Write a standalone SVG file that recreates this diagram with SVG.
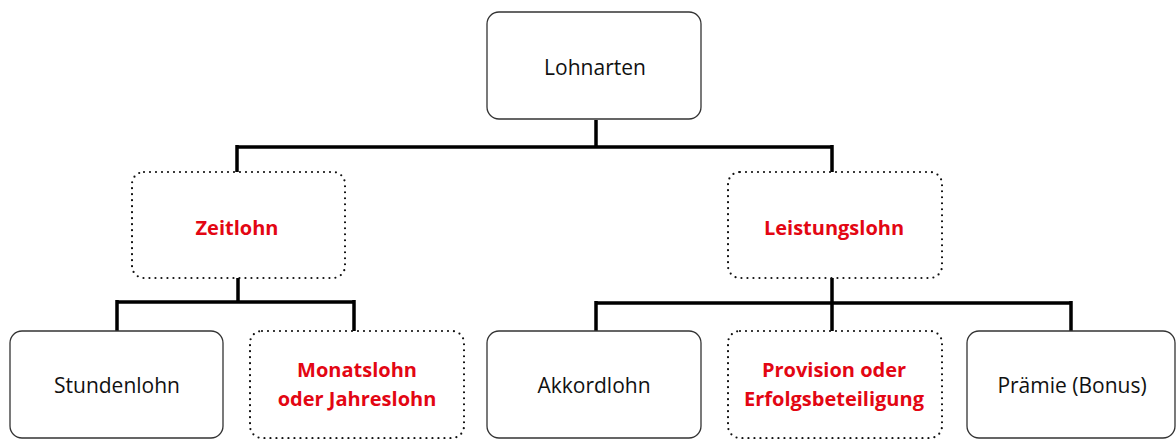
<svg xmlns="http://www.w3.org/2000/svg" width="1176" height="439" viewBox="0 0 1176 439">
<style>
.solid{fill:#fff;stroke:#333;stroke-width:1.3}
.dot{fill:#fff;stroke:#111;stroke-width:2.2;stroke-dasharray:0 6;stroke-linecap:round}
.conn{fill:none;stroke:#000;stroke-width:3.5}
.t{font-family:"Open Sans","Noto Sans",sans-serif;font-size:21px;fill:#111;text-anchor:middle}
.r{font-family:"Open Sans","Noto Sans",sans-serif;font-size:20px;font-weight:bold;fill:#e30613;text-anchor:middle}
</style>
<rect width="1176" height="439" fill="#fff"/>
<g id="connectors">
<path class="conn" d="M596 120V147M237 147H832M237 145V172M832 145V172"/>
<path class="conn" d="M238 278V303M117 302H355M117 300V331M354 300V331"/>
<path class="conn" d="M832 278V331M596 303H1071M596 301V331M1071 301V331"/>
</g>
<g id="lohnarten"><rect class="solid" x="487" y="12" width="214" height="107" rx="12"/><text class="t" x="595" y="75">Lohnarten</text></g>
<g id="zeitlohn"><rect class="dot" x="132" y="172" width="213" height="106" rx="12"/><text class="r" x="237" y="235">Zeitlohn</text></g>
<g id="leistungslohn"><rect class="dot" x="728" y="172" width="214" height="106" rx="12"/><text class="r" x="834" y="235">Leistungslohn</text></g>
<g id="stundenlohn"><rect class="solid" x="10" y="331" width="213" height="107" rx="12"/><text class="t" x="117" y="393">Stundenlohn</text></g>
<g id="monatslohn"><rect class="dot" x="250" y="331" width="214" height="107" rx="12"/><text class="r" x="357" y="377">Monatslohn</text><text class="r" x="357" y="406">oder Jahreslohn</text></g>
<g id="akkordlohn"><rect class="solid" x="487" y="331" width="214" height="107" rx="12"/><text class="t" x="594" y="393">Akkordlohn</text></g>
<g id="provision"><rect class="dot" x="728" y="331" width="214" height="107" rx="12"/><text class="r" x="834" y="377">Provision oder</text><text class="r" x="834" y="406">Erfolgsbeteiligung</text></g>
<g id="praemie"><rect class="solid" x="967" y="331" width="208" height="107" rx="12"/><text class="t" x="1072" y="393">Prämie (Bonus)</text></g>
</svg>
